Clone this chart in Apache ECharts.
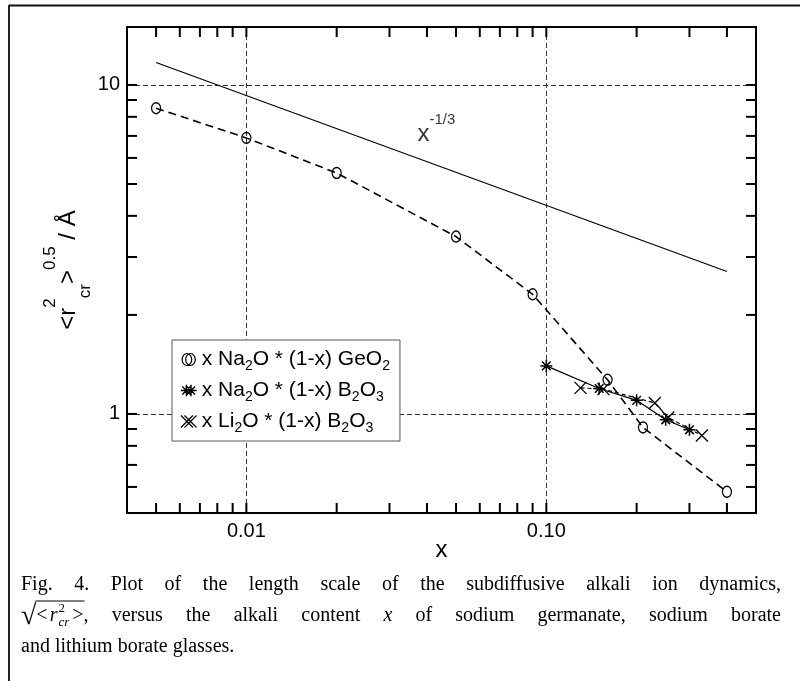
<!DOCTYPE html>
<html><head><meta charset="utf-8">
<script src="https://cdn.jsdelivr.net/npm/echarts@6/dist/echarts.min.js"></script>
<style>html,body{margin:0;padding:0;background:#fff}#c{width:800px;height:681px}</style>
</head><body><div id="c"></div><script>
// ---------------- data ----------------
const geX = [0.005, 0.01, 0.02, 0.05, 0.09, 0.16, 0.21, 0.4];
const geY = [8.5, 6.9, 5.4, 3.46, 2.31, 1.27, 0.91, 0.58];
const naX = [0.1, 0.15, 0.2, 0.25, 0.3];
const naY = [1.40, 1.195, 1.10, 0.96, 0.895];
const liX = [0.13, 0.155, 0.23, 0.255, 0.33];
const liY = [1.20, 1.19, 1.08, 0.975, 0.86];
const powX = [0.005, 0.4];
const powY = [11.7, 2.71];
const annX = [0.043];
const annY = [7.35];
const xTicks = [0.005,0.006,0.007,0.008,0.009,0.01,0.02,0.03,0.04,0.05,0.06,0.07,0.08,0.09,0.1,0.2,0.3,0.4];
const yTicks = [0.6,0.7,0.8,0.9,1,2,3,4,5,6,7,8,9,10];
const xRange = [0.004, 0.5];
const yRange = [0.5, 15];
const legendLabels = [
  'x Na{s|2}O * (1-x) GeO{s|2}',
  'x Na{s|2}O * (1-x) B{s|2}O{s|3}',
  'x Li{s|2}O * (1-x) B{s|2}O{s|3}'
];
const seriesNames = ['ge', 'na', 'li'];
const captionLine1 = ['Fig.', '4.', 'Plot', 'of', 'the', 'length', 'scale', 'of', 'the', 'subdiffusive', 'alkali', 'ion', 'dynamics,'];
const captionLine2 = ['versus', 'the', 'alkali', 'content', '*x', 'of', 'sodium', 'germanate,', 'sodium', 'borate'];
const captionLine3 = 'and lithium borate glasses.';

// ---------------- helpers ----------------
const SANS = '"Liberation Sans", Arial, Helvetica, sans-serif';
const SERIF = '"Liberation Serif", "Times New Roman", serif';
const zip = (a, b) => a.map((v, i) => [v, b[i]]);
const TL = 10;

const ctx = document.createElement('canvas').getContext('2d');
function tw(t, f) { ctx.font = f; return ctx.measureText(t).width; }

function txt(x, y, text, font, align) {
  return { type: 'text', x: x, y: y, silent: true,
    style: { text: text, font: font, fill: '#000', align: align || 'left', verticalAlign: 'middle',
             textAlign: align || 'left', textVerticalAlign: 'middle' } };
}

// ---------------- caption ----------------
const CAP_L = 21, CAP_R = 781;
const capF = '20px ' + SERIF, capFI = 'italic 20px ' + SERIF;
const L1 = 585, L2 = 616, L3 = 647;
const caption = [];
(function () {
  let widths = captionLine1.map(w => tw(w, capF));
  let sum = widths.reduce((a, b) => a + b, 0);
  let gap = (CAP_R - CAP_L - sum) / (captionLine1.length - 1);
  let x = CAP_L;
  captionLine1.forEach((w, i) => { caption.push(txt(x, L1, w, capF)); x += widths[i] + gap; });

  const radF = '28px ' + SERIF, smallF = '13px ' + SERIF, smallFI = 'italic 13px ' + SERIF;
  let sx = CAP_L;
  caption.push(txt(sx, L2 + 1, '\u221A', radF));
  const rw = tw('\u221A', radF);
  const ovStart = sx + rw - 1;
  sx += rw;
  caption.push(txt(sx, L2, '<', capF)); sx += tw('<', capF) + 2;
  caption.push(txt(sx, L2, 'r', capFI)); sx += tw('r', capFI) + 1;
  caption.push(txt(sx, L2 - 7, '2', smallF));
  caption.push(txt(sx, L2 + 7, 'cr', smallFI));
  sx += Math.max(tw('2', smallF), tw('cr', smallFI)) + 3;
  caption.push(txt(sx, L2, '>', capF)); sx += tw('>', capF);
  const ovEnd = sx + 1;
  caption.push({ type: 'line', silent: true, shape: { x1: ovStart, y1: L2 - 15, x2: ovEnd, y2: L2 - 15 }, style: { stroke: '#000', lineWidth: 1 } });
  caption.push(txt(sx, L2, ',', capF)); sx += tw(',', capF);
  const tokW = sx - CAP_L;
  const w2 = captionLine2.map(w => w[0] === '*' ? tw(w.slice(1), capFI) : tw(w, capF));
  sum = tokW + w2.reduce((a, b) => a + b, 0);
  gap = (CAP_R - CAP_L - sum) / captionLine2.length;
  x = sx + gap;
  captionLine2.forEach((w, i) => {
    if (w[0] === '*') caption.push(txt(x, L2, w.slice(1), capFI));
    else caption.push(txt(x, L2, w, capF));
    x += w2[i] + gap;
  });
  caption.push(txt(CAP_L, L3, captionLine3, capF));
  caption.push({ type: 'line', silent: true, shape: { x1: 9, y1: 5.5, x2: 800, y2: 5.5 }, style: { stroke: '#111', lineWidth: 2 } });
  caption.push({ type: 'line', silent: true, shape: { x1: 9, y1: 5, x2: 9, y2: 681 }, style: { stroke: '#222', lineWidth: 2 } });
})();

// ---------------- chart ----------------
const chart = echarts.init(document.getElementById('c'), null, { renderer: 'canvas', width: 800, height: 681 });

const axisLine = { show: true, onZero: false, lineStyle: { color: '#000', width: 2 } };
const splitLineStyle = { show: true, showMinLine: false, showMaxLine: false, lineStyle: { color: '#333', width: 1, type: [5, 3] } };

function tickLine(x1, y1, x2, y2) {
  return { type: 'line', shape: { x1: x1, y1: y1, x2: x2, y2: y2 }, style: { stroke: '#000', lineWidth: 2 } };
}

const symAsterisk = 'path://M5,0L5,10M0,5L10,5M1.4,1.4L8.6,8.6M8.6,1.4L1.4,8.6';
const symCross = 'path://M0,0L10,10M10,0L0,10';
const iconGe2 = 'path://M1,5a4,5 0 1,0 8,0a4,5 0 1,0 -8,0M4,5a4,5 0 1,0 8,0a4,5 0 1,0 -8,0';
const iconNa = 'path://M5,0L5,10M0,5L10,5M1.4,1.4L8.6,8.6M8.6,1.4L1.4,8.6M9,0L9,10M4,5L14,5M5.4,1.4L12.6,8.6M12.6,1.4L5.4,8.6';
const iconLi = 'path://M0,0L10,10M10,0L0,10M3,0L13,10M13,0L3,10';

const option = {
  animation: false,
  backgroundColor: '#fff',
  textStyle: { fontFamily: SANS },
  grid: { left: 127, right: 44, top: 27, bottom: 168, containLabel: false, outerBoundsMode: 'none' },
  xAxis: [
    { type: 'log', logBase: 10, position: 'bottom', min: xRange[0], max: xRange[1],
      axisLine: axisLine, axisTick: { show: false }, minorTick: { show: false },
      splitLine: splitLineStyle,
      axisLabel: { show: true, showMinLabel: false, showMaxLabel: false, margin: 8,
        formatter: v => Number(v).toFixed(2), fontFamily: SANS, fontSize: 20, color: '#000' },
      name: 'x', nameLocation: 'middle', nameGap: 25, nameMoveOverlap: false,
      nameTextStyle: { fontFamily: SANS, fontSize: 24, color: '#000' } },
    { type: 'log', logBase: 10, position: 'top', min: xRange[0], max: xRange[1],
      axisLine: axisLine, axisTick: { show: false }, minorTick: { show: false },
      splitLine: { show: false }, axisLabel: { show: false } }
  ],
  yAxis: [
    { type: 'log', logBase: 10, position: 'left', min: yRange[0], max: yRange[1],
      axisLine: axisLine, axisTick: { show: false }, minorTick: { show: false },
      splitLine: splitLineStyle,
      axisLabel: { show: true, showMinLabel: false, showMaxLabel: false, margin: 7,
        formatter: v => String(Math.round(v)), fontFamily: SANS, fontSize: 20, color: '#000' },
      name: '{m|<r}{sup|2}{sub|cr}{m|>}{sup|0.5}{m| / \u00C5}',
      nameLocation: 'middle', nameGap: 33, nameRotate: 90, nameMoveOverlap: false,
      nameTextStyle: { fontFamily: SANS, color: '#000', fontSize: 24,
        rich: {
          m: { fontFamily: SANS, fontSize: 24, lineHeight: 52, color: '#000' },
          sup: { fontFamily: SANS, fontSize: 17, lineHeight: 18, verticalAlign: 'top', color: '#000' },
          sub: { fontFamily: SANS, fontSize: 17, lineHeight: 18, verticalAlign: 'bottom', color: '#000' }
        } } },
    { type: 'log', logBase: 10, position: 'right', min: yRange[0], max: yRange[1],
      axisLine: axisLine, axisTick: { show: false }, minorTick: { show: false },
      splitLine: { show: false }, axisLabel: { show: false } }
  ],
  legend: {
    show: true, orient: 'vertical', left: 172, top: 340,
    data: [
      { name: 'ge', icon: iconGe2, itemStyle: { color: 'rgba(255,255,255,0)', borderColor: '#000', borderWidth: 1.2 } },
      { name: 'na', icon: iconNa, itemStyle: { color: '#000', borderColor: '#000', borderWidth: 1.4 } },
      { name: 'li', icon: iconLi, itemStyle: { color: '#000', borderColor: '#000', borderWidth: 1.2 } }
    ],
    backgroundColor: '#fff', borderColor: '#555', borderWidth: 1, borderRadius: 0,
    padding: [6, 10, 6, 8], itemGap: 4, itemWidth: 16, itemHeight: 12,
    selectedMode: false,
    formatter: n => legendLabels[seriesNames.indexOf(n)],
    textStyle: { fontFamily: SANS, fontSize: 21, color: '#000', lineHeight: 27,
      rich: { s: { fontFamily: SANS, fontSize: 14, lineHeight: 14, verticalAlign: 'bottom', color: '#000' } } }
  },
  graphic: { elements: caption },
  series: [
    { name: 'pow', type: 'line', data: zip(powX, powY), showSymbol: false, symbol: 'none',
      lineStyle: { color: '#000', width: 1.2, type: 'solid' }, itemStyle: { color: '#000' },
      emphasis: { disabled: true }, silent: true, z: 3 },
    { name: 'ge', type: 'line', data: zip(geX, geY), symbol: 'circle', symbolSize: [9, 11],
      lineStyle: { color: '#000', width: 1.6, type: [8, 5] },
      itemStyle: { color: 'rgba(255,255,255,0)', borderColor: '#000', borderWidth: 1.3 },
      emphasis: { disabled: true }, silent: true, z: 4 },
    { name: 'na', type: 'line', data: zip(naX, naY), symbol: symAsterisk, symbolSize: 12,
      lineStyle: { color: '#000', width: 1.2, type: 'solid' },
      itemStyle: { color: '#000', borderColor: '#000', borderWidth: 1.5 },
      emphasis: { disabled: true }, silent: true, z: 4 },
    { name: 'li', type: 'line', data: zip(liX, liY), symbol: symCross, symbolSize: 12,
      lineStyle: { color: '#000', width: 1.2, type: [4, 3] },
      itemStyle: { color: '#000', borderColor: '#000', borderWidth: 1.3 },
      emphasis: { disabled: true }, silent: true, z: 4 },
    { name: 'ann', type: 'scatter', data: zip(annX, annY), symbolSize: 1,
      itemStyle: { color: 'rgba(0,0,0,0)' }, silent: true,
      label: { show: true, position: 'inside', formatter: '{m|x}{s|-1/3}',
        rich: { m: { fontFamily: SANS, fontSize: 24, lineHeight: 34, color: '#000', verticalAlign: 'bottom' },
                s: { fontFamily: SANS, fontSize: 15, lineHeight: 16, color: '#000', verticalAlign: 'top' } } } },
    { name: 'xticks', type: 'custom', coordinateSystem: 'cartesian2d', clip: false, silent: true, z: 6,
      data: xTicks.map(v => [v, yRange[0]]),
      renderItem: (p, api) => {
        const v = api.value(0);
        const b = api.coord([v, yRange[0]]), t = api.coord([v, yRange[1]]);
        return { type: 'group', children: [tickLine(b[0], b[1], b[0], b[1] - TL), tickLine(t[0], t[1], t[0], t[1] + TL)] };
      } },
    { name: 'yticks', type: 'custom', coordinateSystem: 'cartesian2d', clip: false, silent: true, z: 6,
      data: yTicks.map(v => [xRange[0], v]),
      renderItem: (p, api) => {
        const v = api.value(1);
        const l = api.coord([xRange[0], v]), r = api.coord([xRange[1], v]);
        return { type: 'group', children: [tickLine(l[0], l[1], l[0] + TL, l[1]), tickLine(r[0], r[1], r[0] - TL, r[1])] };
      } }
  ]
};
chart.setOption(option);
</script></body></html>
